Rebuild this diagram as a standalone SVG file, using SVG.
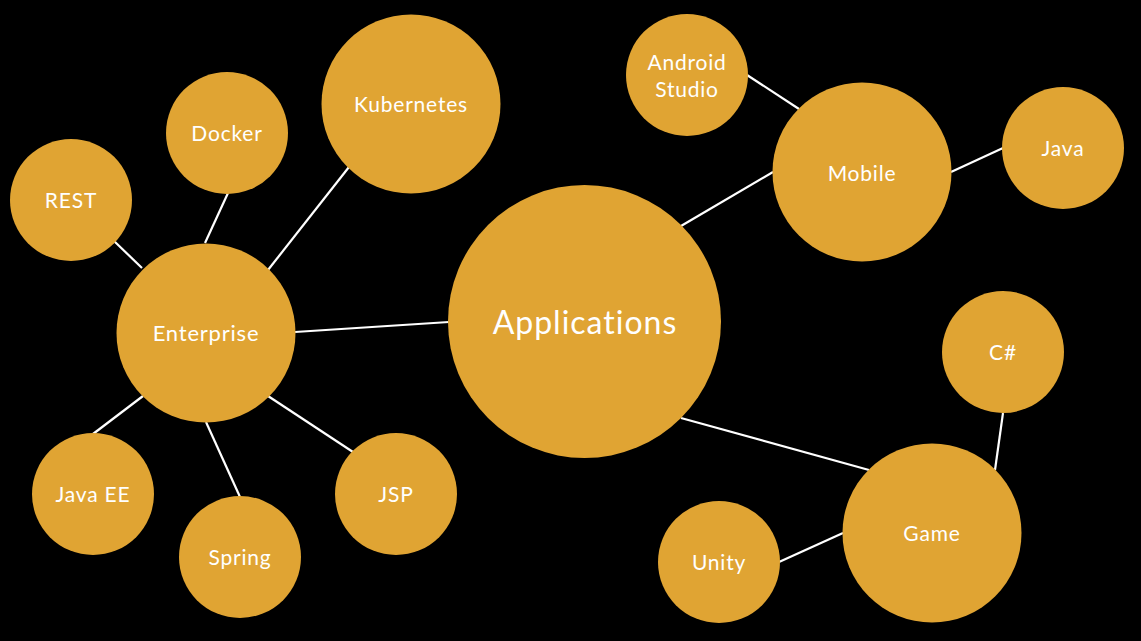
<svg xmlns="http://www.w3.org/2000/svg" width="1141" height="641" viewBox="0 0 1141 641">
<style>
.n{fill:#E0A433}
.t{fill:#fff;font-family:Lato,"Open Sans","Liberation Sans",sans-serif;font-size:21px;text-anchor:middle;letter-spacing:0.8px}
.c line{stroke:#fff;stroke-width:2.2}
</style>
<rect width="1141" height="641" fill="#000"/>
<g id="connectors" class="c">
<line x1="114" y1="241" x2="142" y2="268"/>
<line x1="228" y1="193" x2="205" y2="243"/>
<line x1="349" y1="167" x2="268" y2="270"/>
<line x1="295" y1="332" x2="449" y2="322"/>
<line x1="93" y1="434" x2="143" y2="396"/>
<line x1="240" y1="497" x2="206" y2="422"/>
<line x1="353" y1="452" x2="268" y2="396"/>
<line x1="681" y1="226" x2="773" y2="172"/>
<line x1="747" y1="75" x2="799" y2="109"/>
<line x1="951" y1="172" x2="1003" y2="148"/>
<line x1="681" y1="418" x2="869" y2="470"/>
<line x1="1003" y1="413" x2="995" y2="470"/>
<line x1="779" y1="562" x2="843" y2="533"/>
</g>
<g id="applications"><circle class="n" cx="584.5" cy="321.5" r="136.5"/><text class="t" x="585" y="334" style="font-size:32px;letter-spacing:1px">Applications</text></g>
<g id="enterprise"><circle class="n" cx="206" cy="333" r="89.5"/><text class="t" x="206" y="341" style="font-size:22px">Enterprise</text></g>
<g id="kubernetes"><circle class="n" cx="411" cy="104" r="89.5"/><text class="t" x="411" y="112">Kubernetes</text></g>
<g id="docker"><circle class="n" cx="227" cy="133" r="61"/><text class="t" x="227" y="141">Docker</text></g>
<g id="rest"><circle class="n" cx="71" cy="200" r="61"/><text class="t" x="71" y="208">REST</text></g>
<g id="javaee"><circle class="n" cx="93" cy="494" r="61"/><text class="t" x="93" y="502">Java EE</text></g>
<g id="spring"><circle class="n" cx="240" cy="557" r="61"/><text class="t" x="240" y="565">Spring</text></g>
<g id="jsp"><circle class="n" cx="396" cy="494" r="61"/><text class="t" x="396" y="502">JSP</text></g>
<g id="mobile"><circle class="n" cx="862" cy="172" r="89.5"/><text class="t" x="862" y="181">Mobile</text></g>
<g id="androidstudio"><circle class="n" cx="687" cy="75" r="61"/><text class="t" x="687" y="70">Android</text><text class="t" x="687" y="97">Studio</text></g>
<g id="java"><circle class="n" cx="1063" cy="148" r="61"/><text class="t" x="1063" y="156">Java</text></g>
<g id="game"><circle class="n" cx="932" cy="533" r="89.5"/><text class="t" x="932" y="541">Game</text></g>
<g id="csharp"><circle class="n" cx="1003" cy="352" r="61"/><text class="t" x="1003" y="360">C#</text></g>
<g id="unity"><circle class="n" cx="719" cy="562" r="61"/><text class="t" x="719" y="570">Unity</text></g>
</svg>
